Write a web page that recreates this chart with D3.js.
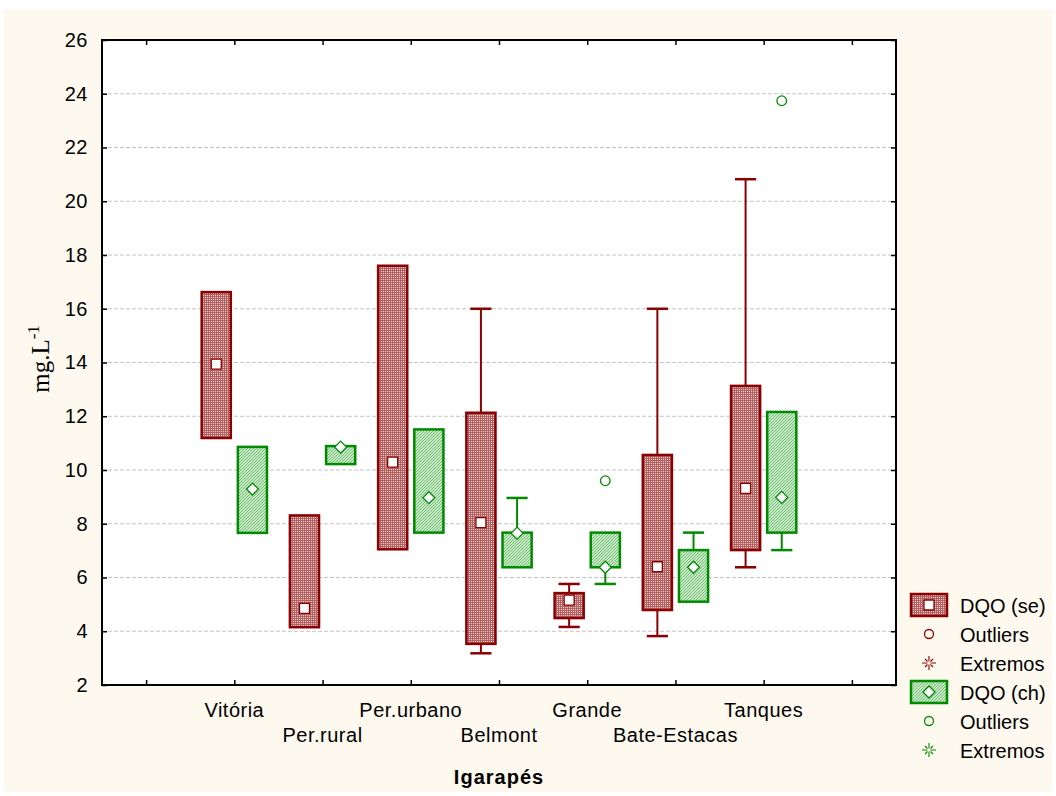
<!DOCTYPE html>
<html>
<head>
<meta charset="utf-8">
<script src="https://cdn.jsdelivr.net/npm/d3@7"></script>
<style>
  html, body { margin: 0; padding: 0; background: #ffffff; }
  svg { display: block; }
</style>
</head>
<body>
<svg id="chart" width="1056" height="796"></svg>
<script>
// Igarapés — DQO box plots, two seasons side by side
const categories = ["Vitória", "Per.rural", "Per.urbano", "Belmont", "Grande", "Bate-Estacas", "Tanques"];

// DQO (se): median, quartiles, non-outlier range
const seMedian = [13.94, 4.85, 10.29, 8.04, 5.16, 6.40, 9.32];
const seQ1     = [11.19, 4.15, 7.05, 3.53, 4.49, 4.79, 7.02];
const seQ3     = [16.62, 8.31, 17.60, 12.13, 5.42, 10.56, 13.13];
const seMin    = [11.19, 4.15, 7.05, 3.18, 4.16, 3.82, 6.38];
const seMax    = [16.62, 8.31, 17.60, 16.00, 5.76, 16.00, 20.82];
const seOutliers = [[], [], [], [], [], [], []];

// DQO (ch)
const chMedian = [9.29, 10.85, 8.97, 7.65, 6.38, 6.38, 8.98];
const chQ1     = [7.66, 10.22, 7.67, 6.38, 6.38, 5.10, 7.67];
const chQ3     = [10.86, 10.89, 11.51, 7.67, 7.67, 7.02, 12.16];
const chMin    = [7.66, 10.22, 7.67, 6.38, 5.76, 5.10, 7.02];
const chMax    = [10.86, 10.89, 11.51, 8.96, 7.67, 7.67, 12.16];
const chOutliers = [[], [], [], [], [9.60], [], [23.74]];

const yTicks = [2, 4, 6, 8, 10, 12, 14, 16, 18, 20, 22, 24, 26];
const xTicks = [0, 1, 2, 3, 4, 5, 6, 7, 8];
const legendLabels = ["DQO (se)", "Outliers", "Extremos", "DQO (ch)", "Outliers", "Extremos"];

const RED = "#8b0000", GREEN = "#008a00";
const svg = d3.select("#chart");
const W = 1056, H = 796;
const plot = { left: 102, right: 896, top: 40, bottom: 685 };

const x = d3.scaleLinear().domain([-0.5, 8.5]).range([plot.left, plot.right]);
const y = d3.scaleLinear().domain([2, 26]).range([plot.bottom, plot.top]);

// page background
svg.append("rect").attr("x", 4).attr("y", 10).attr("width", W - 8).attr("height", H - 14)
  .attr("fill", "#fef9ef");

// fill patterns: fine red grid, green diagonal hatch
const defs = svg.append("defs");
const pRed = defs.append("pattern").attr("id", "redFill").attr("patternUnits", "userSpaceOnUse")
  .attr("width", 2).attr("height", 2);
pRed.append("rect").attr("width", 2).attr("height", 2).attr("fill", "#b55e5e").attr("shape-rendering", "crispEdges");
pRed.append("rect").attr("x", 1).attr("y", 1).attr("width", 1).attr("height", 1)
  .attr("fill", "#f2d2d2").attr("shape-rendering", "crispEdges");

const pGreen = defs.append("pattern").attr("id", "greenFill").attr("patternUnits", "userSpaceOnUse")
  .attr("width", 3).attr("height", 3);
pGreen.append("rect").attr("width", 3).attr("height", 3).attr("fill", "#eef8ec");
pGreen.append("path").attr("d", "M-1,1 L1,-1 M0,3 L3,0 M2,4 L4,2")
  .attr("stroke", "#6cbf6c").attr("stroke-width", 1.1);

// plot area
svg.append("rect").attr("x", plot.left).attr("y", plot.top)
  .attr("width", plot.right - plot.left).attr("height", plot.bottom - plot.top)
  .attr("fill", "#ffffff");

// horizontal grid
svg.append("g").selectAll("line").data(yTicks.filter(t => t > 2 && t < 26)).join("line")
  .attr("x1", plot.left).attr("x2", plot.right)
  .attr("y1", d => y(d)).attr("y2", d => y(d))
  .attr("stroke", "#c4c4c4").attr("stroke-width", 1).attr("stroke-dasharray", "4,2");

// axes (ticks pointing inward)
const tickLen = 5;
const axL = svg.append("g").attr("transform", `translate(${plot.left},0)`)
  .call(d3.axisLeft(y).tickValues(yTicks).tickSizeInner(-tickLen).tickSizeOuter(0).tickPadding(14));
const axR = svg.append("g").attr("transform", `translate(${plot.right},0)`)
  .call(d3.axisRight(y).tickValues(yTicks).tickSizeInner(-tickLen).tickSizeOuter(0).tickFormat(""));
const axB = svg.append("g").attr("transform", `translate(0,${plot.bottom})`)
  .call(d3.axisBottom(x).tickValues(xTicks).tickSizeInner(-tickLen).tickSizeOuter(0).tickFormat(""));
const axT = svg.append("g").attr("transform", `translate(0,${plot.top})`)
  .call(d3.axisTop(x).tickValues(xTicks).tickSizeInner(-tickLen).tickSizeOuter(0).tickFormat(""));
[axL, axR, axB, axT].forEach(g => {
  g.select(".domain").remove();
  g.selectAll(".tick line").attr("stroke", "#000").attr("stroke-width", 1.5);
});
axL.selectAll(".tick text")
  .attr("font-family", "'Liberation Sans', Arial, sans-serif").attr("font-size", 20)
  .attr("letter-spacing", "0.5px").attr("fill", "#000");

// frame
svg.append("rect").attr("x", plot.left).attr("y", plot.top)
  .attr("width", plot.right - plot.left).attr("height", plot.bottom - plot.top)
  .attr("fill", "none").attr("stroke", "#000").attr("stroke-width", 2);

// category labels, staggered on two rows
svg.append("g").selectAll("text").data(categories).join("text")
  .attr("x", (d, i) => x(i + 1))
  .attr("y", (d, i) => i % 2 === 0 ? 717 : 742)
  .attr("text-anchor", "middle")
  .attr("font-family", "'Liberation Sans', Arial, sans-serif").attr("font-size", 20)
  .attr("letter-spacing", "0.5px").attr("fill", "#000")
  .text(d => d);

// axis titles
svg.append("text").attr("x", x(4)).attr("y", 784).attr("text-anchor", "middle")
  .attr("font-family", "'Liberation Sans', Arial, sans-serif").attr("font-size", 20)
  .attr("font-weight", "bold").attr("letter-spacing", "1px").text("Igarapés");

const yt = svg.append("text").attr("transform", "translate(49,359) rotate(-90)")
  .attr("text-anchor", "middle")
  .attr("font-family", "'Liberation Serif', 'Times New Roman', serif").attr("font-size", 25);
yt.append("tspan").text("mg.L");
yt.append("tspan").attr("dy", -10).attr("font-size", 17).text("-1");

// box plots
const boxW = 0.33;   // in category units
const capW = 0.24;
const offset = 0.205;

function drawSeries(opts) {
  const g = svg.append("g");
  categories.forEach((c, i) => {
    const cx = x(i + 1 + opts.dx);
    const half = (x(boxW) - x(0)) / 2;
    const capHalf = (x(capW) - x(0)) / 2;
    // whiskers
    if (opts.max[i] > opts.q3[i]) {
      g.append("line").attr("x1", cx).attr("x2", cx).attr("y1", y(opts.q3[i])).attr("y2", y(opts.max[i]))
        .attr("stroke", opts.color).attr("stroke-width", 2);
      g.append("line").attr("x1", cx - capHalf).attr("x2", cx + capHalf)
        .attr("y1", y(opts.max[i])).attr("y2", y(opts.max[i]))
        .attr("stroke", opts.color).attr("stroke-width", 2.5);
    }
    if (opts.min[i] < opts.q1[i]) {
      g.append("line").attr("x1", cx).attr("x2", cx).attr("y1", y(opts.q1[i])).attr("y2", y(opts.min[i]))
        .attr("stroke", opts.color).attr("stroke-width", 2);
      g.append("line").attr("x1", cx - capHalf).attr("x2", cx + capHalf)
        .attr("y1", y(opts.min[i])).attr("y2", y(opts.min[i]))
        .attr("stroke", opts.color).attr("stroke-width", 2.5);
    }
    // box
    g.append("rect").attr("x", cx - half).attr("y", y(opts.q3[i]))
      .attr("width", 2 * half).attr("height", y(opts.q1[i]) - y(opts.q3[i]))
      .attr("fill", `url(#${opts.pattern})`).attr("stroke", opts.color).attr("stroke-width", 2.5);
    // median marker
    g.append("path").attr("transform", `translate(${cx},${y(opts.median[i])})`)
      .attr("d", opts.marker)
      .attr("fill", "#fff").attr("stroke", opts.color).attr("stroke-width", 1.3);
    // outliers
    opts.outliers[i].forEach(v => {
      g.append("circle").attr("cx", cx).attr("cy", y(v)).attr("r", 4.8)
        .attr("fill", "none").attr("stroke", opts.color).attr("stroke-width", 1.3);
    });
  });
}

const squarePath = "M-5,-5H5V5H-5Z";
const diamondPath = "M0,-6L6,0L0,6L-6,0Z";

drawSeries({ dx: -offset, median: seMedian, q1: seQ1, q3: seQ3, min: seMin, max: seMax,
  outliers: seOutliers, color: RED, pattern: "redFill", marker: squarePath });
drawSeries({ dx: offset, median: chMedian, q1: chQ1, q3: chQ3, min: chMin, max: chMax,
  outliers: chOutliers, color: GREEN, pattern: "greenFill", marker: diamondPath });

// legend
const legend = svg.append("g");
const rowY = d3.range(legendLabels.length).map(i => 605 + i * 29);
const lx = 929;
const asterisk = "M0,-7V-1.5M0,1.5V7M-7,0H-1.5M1.5,0H7M-4,-4L-1.5,-1.5M4,-4L1.5,-1.5M-4,4L-1.5,1.5M4,4L1.5,1.5";
legendLabels.forEach((label, i) => {
  const color = i < 3 ? RED : GREEN;
  const kind = i % 3;
  const gy = rowY[i];
  if (kind === 0) {
    legend.append("rect").attr("x", lx - 18).attr("y", gy - 11).attr("width", 36).attr("height", 22)
      .attr("fill", i < 3 ? "url(#redFill)" : "url(#greenFill)")
      .attr("stroke", color).attr("stroke-width", 2.5);
    legend.append("path").attr("transform", `translate(${lx},${gy})`)
      .attr("d", i < 3 ? squarePath : diamondPath)
      .attr("fill", "#fff").attr("stroke", color).attr("stroke-width", 1.3);
  } else if (kind === 1) {
    legend.append("circle").attr("cx", lx).attr("cy", gy).attr("r", 4.5)
      .attr("fill", "none").attr("stroke", color).attr("stroke-width", 1.3);
  } else {
    legend.append("path").attr("transform", `translate(${lx},${gy})`).attr("d", asterisk)
      .attr("stroke", color).attr("stroke-width", 1.1).attr("fill", "none");
  }
  legend.append("text").attr("x", 960).attr("y", gy + 8)
    .attr("font-family", "'Liberation Sans', Arial, sans-serif").attr("font-size", 20)
    .attr("fill", "#000").text(label);
});
</script>
</body>
</html>
